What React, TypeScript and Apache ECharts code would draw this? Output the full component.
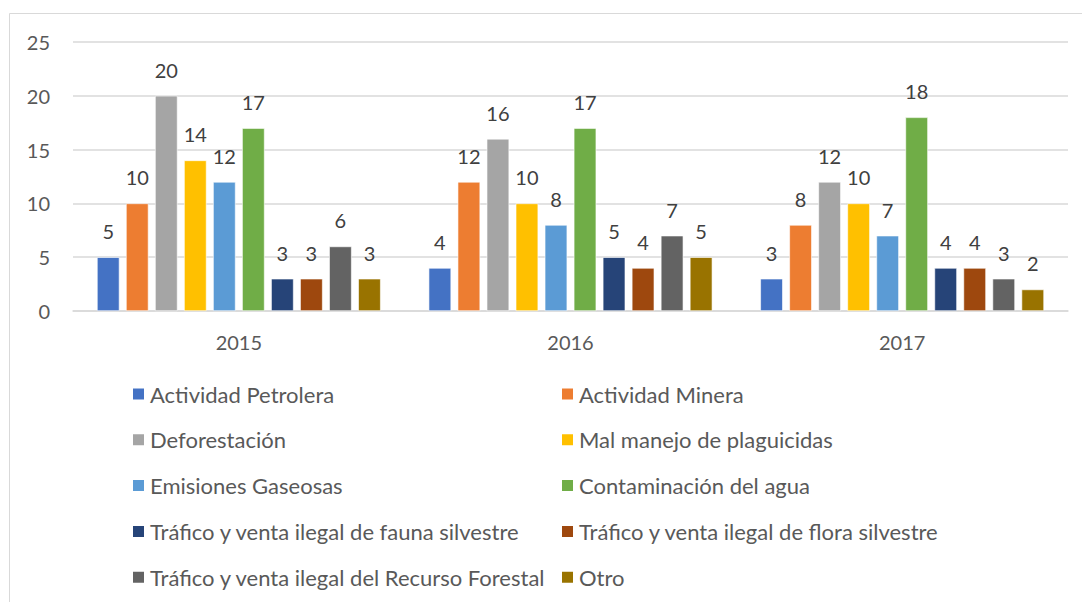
import React, { useEffect, useRef } from "react";
import * as echarts from "echarts";

const categories = ["2015", "2016", "2017"];
const seriesNames = [
  "Actividad Petrolera",
  "Actividad Minera",
  "Deforestación",
  "Mal manejo de plaguicidas",
  "Emisiones Gaseosas",
  "Contaminación del agua",
  "Tráfico y venta ilegal de fauna silvestre",
  "Tráfico y venta ilegal de flora silvestre",
  "Tráfico y venta ilegal del Recurso Forestal",
  "Otro",
];
const seriesValues = [
  [5, 4, 3],
  [10, 12, 8],
  [20, 16, 12],
  [14, 10, 10],
  [12, 8, 7],
  [17, 17, 18],
  [3, 5, 4],
  [3, 4, 4],
  [6, 7, 3],
  [3, 5, 2],
];
const colors = [
  "#4472C4",
  "#ED7D31",
  "#A5A5A5",
  "#FFC000",
  "#5B9BD5",
  "#70AD47",
  "#264478",
  "#9E480E",
  "#636363",
  "#997300",
];
const yTicks = { min: 0, max: 25, interval: 5 };

const FONT = "Lato, 'Liberation Sans', sans-serif";

export default function App() {
  const ref = useRef<HTMLDivElement>(null);
  useEffect(() => {
    document.body.style.margin = "0";
    const chart = echarts.init(ref.current!, undefined, { renderer: "svg" });
    const legendText = {
      fontSize: 22,
      color: "#595959",
      fontFamily: FONT,
      lineHeight: 22,
    };
    chart.setOption({
      animation: false,
      color: colors,
      textStyle: { fontFamily: FONT },
      graphic: [
        {
          type: "rect",
          shape: { x: 9.5, y: 13.5, width: 1200, height: 800 },
          style: { fill: "none", stroke: "#D9D9D9", lineWidth: 1 },
          silent: true,
        },
      ],
      grid: { left: 73, right: 14, top: 42, height: 269, containLabel: false },
      legend: [
        {
          orient: "vertical",
          left: 131,
          top: 383,
          padding: 0,
          itemWidth: 13,
          itemHeight: 13,
          itemGap: 23.8,
          icon: "rect",
          textStyle: legendText,
          data: seriesNames.filter((_, i) => i % 2 === 0),
        },
        {
          orient: "vertical",
          left: 560,
          top: 383,
          padding: 0,
          itemWidth: 13,
          itemHeight: 13,
          itemGap: 23.8,
          icon: "rect",
          textStyle: legendText,
          data: seriesNames.filter((_, i) => i % 2 === 1),
        },
      ],
      xAxis: {
        type: "category",
        data: categories,
        axisTick: { show: false },
        axisLine: { lineStyle: { color: "#D9D9D9", width: 1.5 } },
        axisLabel: {
          fontSize: 20,
          color: "#595959",
          margin: 21,
          fontFamily: FONT,
        },
      },
      yAxis: {
        type: "value",
        min: yTicks.min,
        max: yTicks.max,
        interval: yTicks.interval,
        axisLine: { show: false },
        axisTick: { show: false },
        splitLine: { lineStyle: { color: "#D9D9D9", width: 1.5 } },
        axisLabel: {
          fontSize: 20,
          color: "#595959",
          margin: 23,
          fontFamily: FONT,
        },
      },
      series: seriesNames.map((name, i) => ({
        name,
        type: "bar",
        data: seriesValues[i],
        barWidth: 22.5,
        barGap: "29%",
        itemStyle: { color: colors[i], borderColor: "#FFFFFF", borderWidth: 0.6 },
        label: {
          show: true,
          position: "top",
          distance: 16,
          fontSize: 20,
          color: "#404040",
          fontFamily: FONT,
        },
      })),
    });
    return () => chart.dispose();
  }, []);
  return <div ref={ref} style={{ width: 1082, height: 602 }} />;
}
